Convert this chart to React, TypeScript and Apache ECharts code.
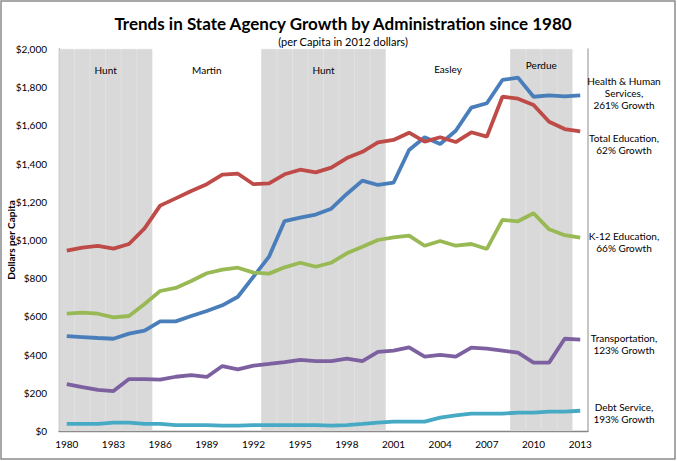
import React, { useEffect, useRef } from 'react';
import * as echarts from 'echarts';

const years = [
  '1980', '1981', '1982', '1983', '1984', '1985', '1986', '1987', '1988', '1989',
  '1990', '1991', '1992', '1993', '1994', '1995', '1996', '1997', '1998', '1999',
  '2000', '2001', '2002', '2003', '2004', '2005', '2006', '2007', '2008', '2009',
  '2010', '2011', '2012', '2013',
];

const healthHuman = [
  497, 492, 487, 483, 510, 525, 574, 574, 602, 628,
  658, 703, 808, 913, 1099, 1117, 1133, 1164, 1241, 1311,
  1288, 1300, 1471, 1538, 1503, 1572, 1693, 1716, 1838, 1850,
  1750, 1757, 1752, 1757,
];

const totalEducation = [
  944, 960, 969, 955, 979, 1061, 1180, 1218, 1257, 1292,
  1342, 1347, 1292, 1297, 1344, 1368, 1354, 1379, 1429, 1462,
  1511, 1524, 1562, 1515, 1538, 1513, 1564, 1541, 1750, 1740,
  1707, 1619, 1581, 1569,
];

const k12Education = [
  614, 620, 614, 595, 602, 665, 733, 749, 785, 826,
  845, 855, 829, 824, 857, 881, 860, 881, 930, 965,
  1000, 1014, 1023, 970, 995, 970, 979, 953, 1105, 1098,
  1140, 1056, 1025, 1012,
];

const transportation = [
  246, 230, 215, 209, 272, 272, 269, 284, 293, 283,
  340, 323, 342, 351, 361, 372, 366, 366, 379, 366,
  414, 421, 438, 389, 398, 389, 436, 431, 421, 410,
  358, 358, 483, 478,
];

const debtService = [
  37, 37, 37, 44, 44, 37, 37, 31, 31, 31,
  28, 28, 31, 31, 31, 31, 31, 28, 31, 37,
  44, 49, 49, 49, 70, 82, 91, 91, 91, 96,
  96, 101, 101, 106,
];

// administrations: name, first year, last year, shaded band
const adminNames = ['Hunt', 'Martin', 'Hunt', 'Easley', 'Perdue'];
const adminStart = ['1980', '1986', '1993', '2001', '2009'];
const adminEnd = ['1985', '1992', '2000', '2008', '2012'];
const adminShaded = [true, false, true, false, true];
const adminLabelY = [70, 70, 70, 69, 65];

const seriesNames = [
  'Health & Human Services',
  'Total Education',
  'K-12 Education',
  'Transportation',
  'Debt Service',
];
const seriesColors = ['#4a7ebb', '#be4b48', '#98b954', '#7d60a0', '#46aac5'];
const endLabels = [
  { lines: 'Health & Human\nServices,\n261% Growth', y: 81 },
  { lines: 'Total Education,\n62% Growth', y: 138 },
  { lines: 'K-12 Education,\n66% Growth', y: 236 },
  { lines: 'Transportation,\n123% Growth', y: 338 },
  { lines: 'Debt Service,\n193% Growth', y: 407 },
];

const FONT = 'Lato, "Open Sans", sans-serif';

const App: React.FC = () => {
  const chartRef = useRef<HTMLDivElement | null>(null);

  useEffect(() => {
    if (!chartRef.current) return;
    document.body.style.margin = '0';

    const chart = echarts.init(chartRef.current, undefined, { renderer: 'svg' });

    // gray bars that mark the shaded administrations
    const shading = years.map((y) => {
      const inBand = adminStart.some(
        (s, i) => adminShaded[i] && y >= s && y <= adminEnd[i]
      );
      return inBand ? 2000 : '-';
    });

    const allSeries = [healthHuman, totalEducation, k12Education, transportation, debtService];

    chart.setOption({
      animation: false,
      textStyle: { fontFamily: FONT },
      title: [
        {
          text: 'Trends in State Agency Growth by Administration since 1980',
          left: 338,
          textAlign: 'center',
          top: 10,
          textStyle: { fontSize: 17, fontWeight: 'bold', color: '#000', fontFamily: FONT },
        },
        {
          text: '(per Capita in 2012 dollars)',
          left: 338,
          textAlign: 'center',
          top: 31,
          textStyle: { fontSize: 11, fontWeight: 'normal', color: '#000', fontFamily: FONT },
        },
      ],
      grid: { left: 59, right: 89, top: 49, bottom: 30, outerBoundsMode: 'none', containLabel: false },
      xAxis: {
        type: 'category',
        data: years,
        boundaryGap: true,
        axisLine: { lineStyle: { color: '#868686', width: 1.3 } },
        axisTick: { show: false },
        axisLabel: { interval: 2, color: '#000', fontSize: 10, margin: 8 },
      },
      yAxis: [
        {
          type: 'value',
          min: 0,
          max: 2000,
          interval: 200,
          axisLine: { show: true, lineStyle: { color: '#868686', width: 1.3 } },
          axisTick: { show: false },
          splitLine: { show: false },
          axisLabel: {
            color: '#000',
            fontSize: 10,
            margin: 12,
            formatter: (v: number) => '$' + v.toLocaleString('en-US'),
          },
        },
        {
          type: 'value',
          position: 'right',
          min: 0,
          max: 2000,
          interval: 200,
          axisLine: { show: true, lineStyle: { color: '#b3b3b3', width: 1.5 } },
          axisTick: { show: false },
          axisLabel: { show: false },
          splitLine: { show: false },
        },
      ],
      series: [
        {
          type: 'bar',
          name: 'shading',
          data: shading,
          barCategoryGap: '0%',
          silent: true,
          z: 0,
          itemStyle: { color: '#d9d9d9', borderColor: '#d9d9d9', borderWidth: 0.8 },
        },
        ...allSeries.map((d, i) => ({
          type: 'line',
          name: seriesNames[i],
          data: d,
          symbol: 'none',
          z: 3,
          lineStyle: { color: seriesColors[i], width: 3.8 },
          itemStyle: { color: seriesColors[i] },
        })),
      ],
    });

    const graphics: any[] = [
      {
        type: 'rect',
        z: 100,
        shape: { x: 1, y: 1, width: 674, height: 458 },
        style: { fill: 'none', stroke: '#8c8c8c', lineWidth: 1.5 },
        silent: true,
      },
      {
        type: 'text',
        z: 100,
        x: 11,
        y: 240,
        rotation: Math.PI / 2,
        style: {
          text: 'Dollars per Capita',
          fontSize: 10,
          fontWeight: 'bold',
          fontFamily: FONT,
          fill: '#000',
          align: 'center',
          verticalAlign: 'middle',
        },
      },
    ];

    adminNames.forEach((name, i) => {
      const a = chart.convertToPixel({ xAxisIndex: 0 }, adminStart[i]) as number;
      const b = chart.convertToPixel({ xAxisIndex: 0 }, adminEnd[i]) as number;
      graphics.push({
        type: 'text',
        z: 100,
        x: (a + b) / 2,
        y: adminLabelY[i],
        style: {
          text: name,
          fontSize: 10,
          fontFamily: FONT,
          fill: '#000',
          align: 'center',
          verticalAlign: 'middle',
        },
      });
    });

    endLabels.forEach((l) => {
      graphics.push({
        type: 'text',
        z: 100,
        x: 624,
        y: l.y - 6,
        style: {
          text: l.lines,
          fontSize: 10,
          lineHeight: 11.8,
          fontFamily: FONT,
          fill: '#000',
          align: 'center',
          verticalAlign: 'top',
        },
      });
    });

    chart.setOption({ graphic: graphics });

    return () => {
      chart.dispose();
    };
  }, []);

  return (
    <div
      ref={chartRef}
      style={{ position: 'absolute', left: 0, top: 0, width: '677px', height: '461px', background: '#fff' }}
    />
  );
};

export default App;
